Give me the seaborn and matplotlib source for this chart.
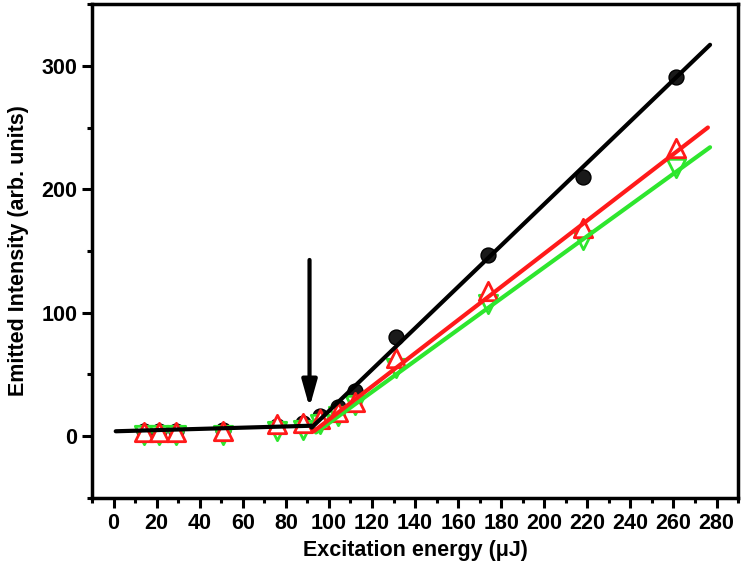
import matplotlib
matplotlib.use('Agg')
import matplotlib.pyplot as plt
from matplotlib.ticker import MultipleLocator
import numpy as np
import pandas as pd
import seaborn as sns

energy = [14, 21, 29, 51, 76, 88, 96, 104, 112, 131, 174, 218, 261]
black_int = [4, 4, 4, 5, 8, 11, 16, 24, 37, 80, 147, 210, 291]
red_int = [3.5, 3.5, 3.5, 4, 10, 11, 14, 20, 28, 63, 118, 169, 233]
green_int = [1, 1, 1, 1, 4, 5, 10, 16, 25, 55, 107, 159, 217]

# linear fits (below / above threshold)
below_x = [1, 92]
below_y = [4, 8.5]
black_fit_x = [92, 277]
black_fit_y = [7, 317]
red_fit_x = [93, 276]
red_fit_y = [4, 250]
green_fit_x = [94, 277]
green_fit_y = [3, 234]

threshold = 91

df = pd.DataFrame({'x': energy, 'black': black_int, 'red': red_int, 'green': green_int})

sns.set_style('ticks')
plt.rcParams['font.family'] = ['Liberation Sans', 'DejaVu Sans']
plt.rcParams['font.weight'] = 'bold'
plt.rcParams['text.color'] = 'black'
plt.rcParams['axes.labelcolor'] = 'black'
plt.rcParams['xtick.color'] = 'black'
plt.rcParams['ytick.color'] = 'black'
plt.rcParams['axes.edgecolor'] = 'black'

fig = plt.figure(figsize=(7.44, 5.75), dpi=100)
ax = fig.add_axes([0.1237, 0.134, 0.8683, 0.859])

green = '#2ee62e'
red = '#ff1a1a'

sns.scatterplot(data=df, x='x', y='black', ax=ax, marker='o', s=115,
                color='#1a1a1a', edgecolor='black', linewidth=1, zorder=3)
sns.scatterplot(data=df, x='x', y='green', ax=ax, marker='v', s=175,
                facecolor='white', edgecolor=green, linewidth=2, zorder=4)
sns.scatterplot(data=df, x='x', y='red', ax=ax, marker='^', s=175,
                facecolor='white', edgecolor=red, linewidth=2, zorder=5)

sns.lineplot(x=below_x, y=below_y, ax=ax, color='black', linewidth=3, zorder=6)
sns.lineplot(x=green_fit_x, y=green_fit_y, ax=ax, color=green, linewidth=3, zorder=6)
sns.lineplot(x=red_fit_x, y=red_fit_y, ax=ax, color=red, linewidth=3, zorder=6)
sns.lineplot(x=black_fit_x, y=black_fit_y, ax=ax, color='black', linewidth=3, zorder=6)

# threshold arrow
ax.annotate('', xy=(threshold, 21), xytext=(threshold, 145),
            arrowprops=dict(arrowstyle='-|>,head_length=1.6,head_width=0.45',
                            color='black', linewidth=3))

ax.set_xlim(-10, 290)
ax.set_ylim(-50, 350)
ax.set_xticks(np.arange(0, 281, 20))
ax.xaxis.set_minor_locator(MultipleLocator(10))
ax.set_yticks([0, 100, 200, 300])
ax.yaxis.set_minor_locator(MultipleLocator(50))

ax.tick_params(axis='both', which='major', direction='out', length=7, width=2.2,
               labelsize=15.5, top=False, right=False)
ax.tick_params(axis='both', which='minor', direction='out', length=3.5, width=2.2,
               top=False, right=False)
for s in ax.spines.values():
    s.set_linewidth(2.5)
    s.set_visible(True)

ax.set_xlabel('Excitation energy (μJ)', fontsize=15.5, fontweight='bold', labelpad=5)
ax.set_ylabel('Emitted Intensity (arb. units)', fontsize=15.5, fontweight='bold', labelpad=9)
for lab in ax.get_xticklabels() + ax.get_yticklabels():
    lab.set_fontweight('bold')

fig.savefig('out.png', dpi=100)
